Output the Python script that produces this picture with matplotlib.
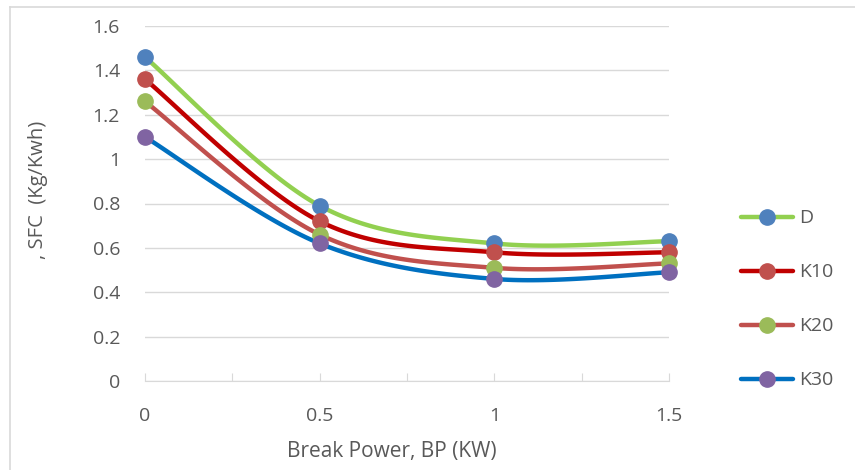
from __future__ import annotations

import matplotlib

matplotlib.use("Agg")
import matplotlib.pyplot as plt
import numpy as np
from matplotlib.lines import Line2D

BREAK_POWER = [0, 0.5, 1, 1.5]
SERIES_NAMES = ["D", "K10", "K20", "K30"]
SFC_D = [1.46, 0.79, 0.62, 0.63]
SFC_K10 = [1.36, 0.72, 0.58, 0.58]
SFC_K20 = [1.26, 0.66, 0.51, 0.53]
SFC_K30 = [1.10, 0.62, 0.46, 0.49]

LINE_COLORS = ["#92D050", "#C00000", "#C0504D", "#0070C0"]
MARKER_COLORS = ["#4F81BD", "#C0504D", "#9BBB59", "#8064A2"]
TEXT = "#595959"
FONT = "Open Sans"


def smooth(xs, ys, steps=40):
    # Excel style smoothing: cubic Bezier segments with Catmull-Rom control points
    x = np.asarray(xs, dtype=float)
    y = np.asarray(ys, dtype=float)
    n = len(x)
    out_x, out_y = [], []
    t = np.linspace(0, 1, steps)
    for i in range(n - 1):
        p0 = np.array([x[max(i - 1, 0)], y[max(i - 1, 0)]])
        p1 = np.array([x[i], y[i]])
        p2 = np.array([x[i + 1], y[i + 1]])
        p3 = np.array([x[min(i + 2, n - 1)], y[min(i + 2, n - 1)]])
        c1 = p1 + (p2 - p0) / 6
        c2 = p2 - (p3 - p1) / 6
        pts = (
            ((1 - t) ** 3)[:, None] * p1
            + (3 * (1 - t) ** 2 * t)[:, None] * c1
            + (3 * (1 - t) * t ** 2)[:, None] * c2
            + (t ** 3)[:, None] * p2
        )
        out_x.extend(pts[:, 0])
        out_y.extend(pts[:, 1])
    return out_x, out_y


fig = plt.figure(figsize=(8.55, 4.7), dpi=100)
ax = fig.add_axes([145 / 855, 1 - 381 / 470, (669 - 145) / 855, (381 - 26) / 470])

all_series = [SFC_D, SFC_K10, SFC_K20, SFC_K30]
handles = []
for name, values, lc, mc in zip(SERIES_NAMES, all_series, LINE_COLORS, MARKER_COLORS):
    sx, sy = smooth(BREAK_POWER, values)
    ax.plot(sx, sy, color=lc, lw=3.2, solid_capstyle="round", zorder=3, clip_on=False)
    ax.plot(BREAK_POWER, values, ls="none", marker="o", ms=11, color=mc, zorder=4,
            clip_on=False)
    handles.append(
        Line2D([], [], color=lc, lw=3.2, marker="o", ms=11, markerfacecolor=mc,
               markeredgecolor=mc, solid_capstyle="round", label=name)
    )

ax.set_xlim(0, 1.5)
ax.set_ylim(0, 1.6)
ax.set_yticks(np.arange(0, 1.61, 0.2))
ax.set_yticklabels(["0", "0.2", "0.4", "0.6", "0.8", "1", "1.2", "1.4", "1.6"])
xt = np.arange(0, 1.51, 0.25)
ax.set_xticks(xt)
ax.set_xticklabels(["0", "", "0.5", "", "1", "", "1.5"])
ax.grid(axis="y", color="#D9D9D9", lw=1)
ax.set_axisbelow(True)
for side in ["top", "right", "left"]:
    ax.spines[side].set_visible(False)
ax.spines["bottom"].set_color("#D9D9D9")
ax.tick_params(axis="x", direction="in", length=6, color="#D9D9D9", pad=19,
               labelsize=14, labelcolor=TEXT)
ax.tick_params(axis="y", length=0, pad=18, labelsize=14, labelcolor=TEXT)
for lab in ax.get_xticklabels() + ax.get_yticklabels():
    lab.set_fontfamily(FONT)

ax.set_xlabel("Break Power, BP (KW)", fontsize=15, color=TEXT, fontfamily=FONT)
ax.xaxis.set_label_coords((392 - 145) / (669 - 145), -(441 - 381) / (381 - 26))
ax.set_ylabel(", SFC  (Kg/Kwh)", fontsize=14.5, color=TEXT, fontfamily=FONT)
ax.yaxis.set_label_coords(-(145 - 48) / (669 - 145), (381 - 190) / (381 - 26))

leg = fig.legend(handles=handles, loc="upper left", bbox_to_anchor=(723 / 855, 1 - 192 / 470),
                 frameon=False, prop={"family": FONT, "size": 14}, labelcolor=TEXT,
                 handlelength=2.7, handletextpad=0.3, labelspacing=1.85)

# light frame of the chart area (only top and left edges are inside the image)
fig.add_artist(Line2D([10 / 855, 10 / 855], [0, 1 - 7 / 470], color="#D9D9D9", lw=1.2))
fig.add_artist(Line2D([10 / 855, 1], [1 - 7 / 470, 1 - 7 / 470], color="#D9D9D9", lw=1.2))

fig.savefig("out.png", dpi=100)
